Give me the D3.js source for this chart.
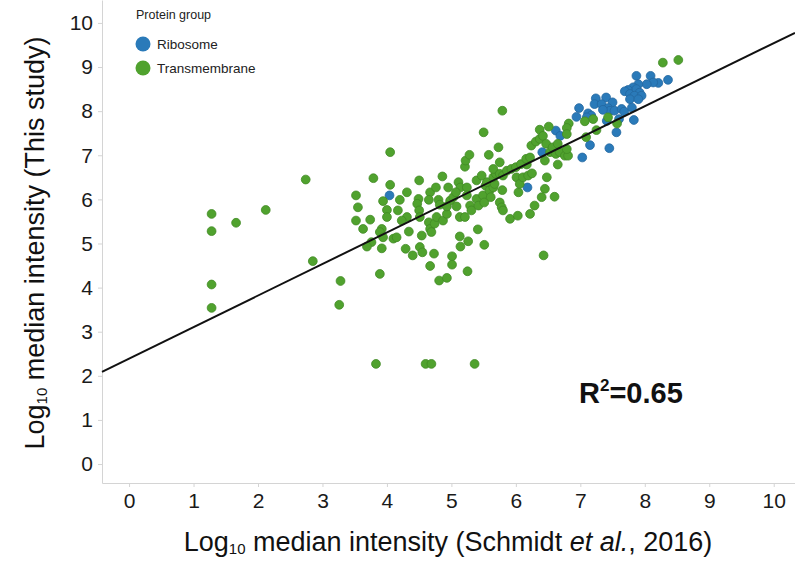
<!DOCTYPE html>
<html>
<head>
<meta charset="utf-8">
<script src="https://cdn.jsdelivr.net/npm/d3@7/dist/d3.min.js"></script>
<style>
  html, body { margin: 0; padding: 0; background: #fff; }
  svg { display: block; font-family: "Liberation Sans", Arial, sans-serif; }
</style>
</head>
<body>
<svg id="chart" width="795" height="567"></svg>
<script>
// Log10 median intensities: [Schmidt et al. 2016, this study]
const ribosome = [
  [6.62,7.56],[6.69,7.44],[4.04,6.09],[6.18,6.27],[6.41,7.07],
  [7.87,8.80],[8.09,8.80],[8.21,8.64],[8.36,8.71],[8.13,8.65],[8.03,8.61],
  [7.90,8.61],[7.82,8.54],[7.74,8.48],[7.69,8.45],[7.77,8.39],[7.87,8.50],
  [7.92,8.42],[7.84,8.35],[7.95,8.35],[7.77,8.27],[7.90,8.27],[7.24,8.29],
  [7.40,8.31],[7.22,8.16],[7.33,8.16],[7.50,8.20],[7.43,8.07],[7.46,8.01],
  [7.53,8.01],[7.35,8.03],[7.64,8.05],[7.68,7.99],[7.80,8.08],[6.98,8.07],
  [6.94,7.87],[7.12,7.95],[7.17,7.90],[7.10,7.86],[7.41,7.78],[7.60,7.82],
  [7.83,7.80],[7.56,7.52],[7.15,7.23],[7.45,7.16],[7.03,6.95]
];

const transmembrane = [
  [1.28,5.67],[1.28,5.28],[1.66,5.47],[2.12,5.76],[2.74,6.45],[1.28,4.07],
  [1.28,3.54],[2.85,4.60],[3.28,4.15],[3.26,3.61],[3.52,6.09],[3.55,5.82],
  [3.52,5.52],[3.83,2.27],[4.60,2.27],[4.69,2.27],[5.36,2.27],
  [5.50,7.52],[6.37,7.58],[6.51,7.65],[6.82,7.72],[4.05,7.07],[3.79,6.48],
  [4.05,6.33],[3.74,5.54],[3.63,5.33],[3.92,5.33],[3.94,5.96],[4.00,5.76],
  [4.00,5.60],[4.20,5.99],[4.17,5.75],[4.31,6.16],[4.31,5.60],[4.23,5.52],
  [3.89,5.26],[3.94,5.14],[4.10,5.11],[4.15,5.14],[3.76,5.03],[3.69,4.93],
  [3.92,4.89],[4.34,5.27],[4.29,4.88],[4.40,4.73],[3.89,4.31],[4.50,6.43],
  [4.49,6.01],[4.47,5.90],[4.50,5.75],[4.51,5.60],[4.67,6.16],[4.65,5.99],
  [4.76,6.27],[4.86,6.52],[4.80,5.99],[4.82,5.88],[4.65,5.48],[4.67,5.33],
  [4.69,5.26],[4.74,5.45],[4.77,5.60],[4.87,5.52],[4.93,5.67],[4.95,6.27],
  [4.98,5.97],[5.03,6.05],[4.93,5.84],[5.08,5.84],[5.11,6.39],[5.14,6.27],
  [5.24,6.27],[5.13,5.60],[5.21,5.60],[4.54,5.18],[4.51,4.92],[4.55,4.80],
  [4.73,4.77],[4.67,4.49],[4.81,4.16],[4.93,4.22],[5.01,4.71],[5.01,4.52],
  [5.13,5.16],[5.14,4.93],[5.25,4.37],[5.26,5.05],[5.41,5.32],[5.51,4.97],
  [5.07,6.16],[5.24,6.09],[5.29,5.86],[5.31,5.75],[5.39,6.43],[5.39,6.01],
  [5.42,5.86],[5.47,6.54],[5.49,6.09],[5.51,5.93],[5.53,6.31],[5.55,6.39],
  [5.59,6.20],[5.61,6.05],[5.65,6.27],[5.67,6.35],[5.65,6.50],[5.69,6.58],
  [5.73,7.18],[5.58,7.01],[5.21,6.74],[5.22,6.88],[5.28,7.01],[5.75,6.84],
  [5.65,6.69],[5.75,6.58],[5.80,6.54],[5.86,6.65],[5.93,6.69],[6.00,6.73],
  [5.79,6.21],[5.75,5.93],[5.78,5.82],[5.80,5.75],[5.91,5.56],[6.03,5.63],
  [6.04,6.16],[6.01,6.50],[6.06,6.35],[6.11,6.50],[6.19,6.54],[6.25,6.59],
  [6.17,6.79],[6.08,6.80],[6.16,6.92],[6.22,6.95],[6.24,7.22],[6.31,7.31],
  [6.37,7.37],[6.42,7.44],[6.47,7.26],[6.53,7.07],[6.57,7.18],[6.62,7.03],
  [6.65,7.26],[6.68,7.07],[6.65,6.79],[6.76,6.99],[6.81,6.99],[6.79,7.14],
  [6.45,6.88],[6.48,6.50],[6.45,6.24],[6.40,6.05],[6.29,5.86],[6.22,5.67],
  [6.60,6.06],[6.43,4.73],[6.79,7.62],[6.79,7.48],
  [8.28,9.10],[8.52,9.16],[7.20,7.82],[7.07,7.77],[7.43,7.86],[7.57,7.72],
  [7.25,7.57],[7.09,7.41],[5.79,8.01]
];

// Linear fit: this study = slope * Schmidt + intercept
const fitSlope = 0.715;
const fitIntercept = 2.39;
const rSquared = "0.65";

const xTicks = [0,1,2,3,4,5,6,7,8,9,10];
const yTicks = [0,1,2,3,4,5,6,7,8,9,10];

const groups = [
  { name: "Ribosome", color: "#2a7ab9", stroke: "#23679f", data: ribosome },
  { name: "Transmembrane", color: "#50a22e", stroke: "#418a24", data: transmembrane }
];

const svg = d3.select("#chart");
const plotLeft = 102, plotRight = 795, plotTop = 0, plotBottom = 483;

const x = d3.scaleLinear().domain([-0.42, 10.33]).range([plotLeft, plotRight]);
const y = d3.scaleLinear().domain([-0.43, 10.52]).range([plotBottom, plotTop]);

const axisColor = "#d4d4d4";

// x axis
const gx = svg.append("g")
  .attr("transform", `translate(0,${plotBottom})`)
  .call(d3.axisBottom(x).tickValues(xTicks).tickFormat(d3.format("d")).tickSize(4).tickSizeOuter(0).tickPadding(6));
gx.select(".domain").attr("stroke", axisColor);
gx.selectAll(".tick line").attr("stroke", axisColor);
gx.selectAll(".tick text").attr("fill", "#1a1a1a").style("font-size", "21px")
  .style("font-family", "'Liberation Sans', Arial, sans-serif");

// y axis
const gy = svg.append("g")
  .attr("transform", `translate(${plotLeft},0)`)
  .call(d3.axisLeft(y).tickValues(yTicks).tickFormat(d3.format("d")).tickSize(4).tickSizeOuter(0).tickPadding(5));
gy.select(".domain").attr("stroke", axisColor);
gy.selectAll(".tick line").attr("stroke", axisColor);
gy.selectAll(".tick text").attr("fill", "#1a1a1a").style("font-size", "21px")
  .style("font-family", "'Liberation Sans', Arial, sans-serif");

// points
groups.forEach(g => {
  svg.append("g").selectAll("circle")
    .data(g.data)
    .join("circle")
    .attr("cx", d => x(d[0]))
    .attr("cy", d => y(d[1]))
    .attr("r", 4.4)
    .attr("fill", g.color)
    .attr("stroke", g.stroke)
    .attr("stroke-width", 0.8);
});

// regression line across the panel
const x0 = x.domain()[0], x1 = x.domain()[1];
svg.append("line")
  .attr("x1", x(x0)).attr("y1", y(fitSlope * x0 + fitIntercept))
  .attr("x2", x(x1)).attr("y2", y(fitSlope * x1 + fitIntercept))
  .attr("stroke", "#111").attr("stroke-width", 2);

// R squared annotation
const r2 = svg.append("text")
  .attr("x", 579).attr("y", 403)
  .attr("fill", "#111")
  .style("font-size", "29px").style("font-weight", "bold");
r2.append("tspan").text("R");
r2.append("tspan").attr("dy", -12).style("font-size", "17px").text("2");
r2.append("tspan").attr("dy", 12).text("=" + rSquared);

// legend
const legend = svg.append("g");
legend.append("text").attr("x", 136).attr("y", 19)
  .attr("fill", "#222").style("font-size", "12.5px").text("Protein group");
groups.forEach((g, i) => {
  legend.append("circle")
    .attr("cx", 143).attr("cy", 44 + i * 24).attr("r", 7.5)
    .attr("fill", g.color);
  legend.append("text")
    .attr("x", 157).attr("y", 49 + i * 24)
    .attr("fill", "#222").style("font-size", "13.5px").text(g.name);
});

// y axis title
const yt = svg.append("text")
  .attr("transform", "translate(44,243) rotate(-90)")
  .attr("text-anchor", "middle")
  .attr("fill", "#111").style("font-size", "27px");
yt.append("tspan").text("Log");
yt.append("tspan").attr("dy", 3).style("font-size", "15px").text("10");
yt.append("tspan").attr("dy", -3).text(" median intensity (This study)");

// x axis title
const xt = svg.append("text")
  .attr("x", 448).attr("y", 551)
  .attr("text-anchor", "middle")
  .attr("fill", "#111").style("font-size", "27px");
xt.append("tspan").text("Log");
xt.append("tspan").attr("dy", 3).style("font-size", "15px").text("10");
xt.append("tspan").attr("dy", -3).text(" median intensity (Schmidt ");
xt.append("tspan").style("font-style", "italic").text("et al.");
xt.append("tspan").text(", 2016)");
</script>
</body>
</html>
